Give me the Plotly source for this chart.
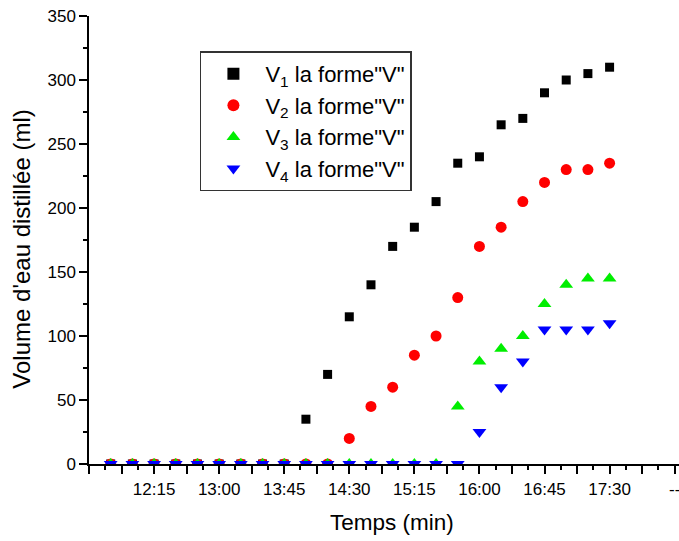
import pandas as pd
import plotly.graph_objects as go

times = ["11:45", "12:00", "12:15", "12:30", "12:45", "13:00", "13:15", "13:30",
         "13:45", "14:00", "14:15", "14:30", "14:45", "15:00", "15:15", "15:30",
         "15:45", "16:00", "16:15", "16:30", "16:45", "17:00", "17:15", "17:30"]
v1 = [0, 0, 0, 0, 0, 0, 0, 0, 0, 35, 70, 115, 140, 170, 185, 205, 235, 240, 265, 270, 290, 300, 305, 310]
v2 = [0, 0, 0, 0, 0, 0, 0, 0, 0, 0, 0, 20, 45, 60, 85, 100, 130, 170, 185, 205, 220, 230, 230, 235]
v3 = [0, 0, 0, 0, 0, 0, 0, 0, 0, 0, 0, 0, 0, 0, 0, 0, 45, 80, 90, 100, 125, 140, 145, 145]
v4 = [0, 0, 0, 0, 0, 0, 0, 0, 0, 0, 0, 0, 0, 0, 0, 0, 0, 25, 60, 80, 105, 105, 105, 110]

names = ['V<sub>1</sub> la forme"V"', 'V<sub>2</sub> la forme"V"',
         'V<sub>3</sub> la forme"V"', 'V<sub>4</sub> la forme"V"']
colors = ["#000000", "#ff0000", "#00ee00", "#0000ff"]
symbols = ["square", "circle", "triangle-up", "triangle-down"]
sizes = [9, 11, 12, 12]

label_times = ["12:15", "13:00", "13:45", "14:30", "15:15", "16:00", "16:45", "17:30", "18:15"]
label_texts = ["12:15", "13:00", "13:45", "14:30", "15:15", "16:00", "16:45", "17:30", "--"]

x_title = "Temps (min)"
y_title = "Volume d'eau distillée (ml)"

day = "2000-01-01 "
x = pd.to_datetime([day + t for t in times], format="mixed")
lv = pd.to_datetime([day + t for t in label_times], format="mixed")
t_start = pd.Timestamp(day + "11:30")
t_end = pd.Timestamp(day + "18:18")

font = "Arial, Liberation Sans, sans-serif"
fig = go.Figure()
for vals, nm, c, s, sz in zip([v1, v2, v3, v4], names, colors, symbols, sizes):
    fig.add_trace(go.Scatter(x=x, y=vals, mode="markers", name=nm,
                             marker=dict(color=c, symbol=s, size=sz, line=dict(width=0))))
# helper trace so the label axis is drawn
fig.add_trace(go.Scatter(x=[x[0]], y=[None], xaxis="x2", mode="markers",
                         showlegend=False, hoverinfo="skip"))

fig.update_layout(
    width=679, height=541,
    margin=dict(l=89, r=0, t=16, b=77),
    paper_bgcolor="white", plot_bgcolor="white",
    font=dict(family=font, size=17, color="black"),
    showlegend=True,
    legend=dict(x=0.188, y=0.921, xanchor="left", yanchor="top",
                bordercolor="#333333", borderwidth=1.5, bgcolor="white",
                font=dict(size=22, family=font), tracegroupgap=0,
                itemwidth=54, itemsizing="constant"),
    xaxis=dict(
        type="date", range=[t_start, t_end], automargin=False,
        tick0=t_start, dtick=1350000,
        ticks="outside", ticklen=8, tickwidth=1.5, tickcolor="black",
        showticklabels=False,
        minor=dict(dtick=675000, tick0=t_start, ticks="outside",
                   ticklen=4, tickwidth=1.5, tickcolor="black", showgrid=False),
        showline=True, linecolor="black", linewidth=1.5, mirror=False,
        showgrid=False, zeroline=False,
    ),
    xaxis2=dict(
        type="date", range=[t_start, t_end], automargin=False,
        overlaying="x", side="bottom", anchor="y",
        tickmode="array", tickvals=lv, ticktext=label_texts,
        ticks="outside", ticklen=10, tickcolor="rgba(0,0,0,0)",
        ticklabeloverflow="allow",
        showline=False, showgrid=False, zeroline=False,
        tickfont=dict(size=17),
    ),
    yaxis=dict(
        range=[0, 350], dtick=50, tick0=0, automargin=False,
        ticks="outside", ticklen=8, tickwidth=1.5, tickcolor="black",
        minor=dict(dtick=25, ticks="outside", ticklen=4, tickwidth=1.5,
                   tickcolor="black", showgrid=False),
        showline=True, linecolor="black", linewidth=1.5, mirror=False,
        showgrid=False, zeroline=False,
        tickfont=dict(size=17),
    ),
    annotations=[
        dict(text=x_title, xref="paper", yref="paper", x=0.5136, y=-0.1296,
             xanchor="center", yanchor="middle", showarrow=False,
             font=dict(size=22.5)),
        dict(text=y_title, xref="paper", yref="paper", x=-0.1136, y=0.4806,
             xanchor="center", yanchor="middle", showarrow=False, textangle=-90,
             font=dict(size=24)),
    ],
)

fig.write_html("out.html", config={"displayModeBar": False},
               post_script="document.body.style.margin='0';")
